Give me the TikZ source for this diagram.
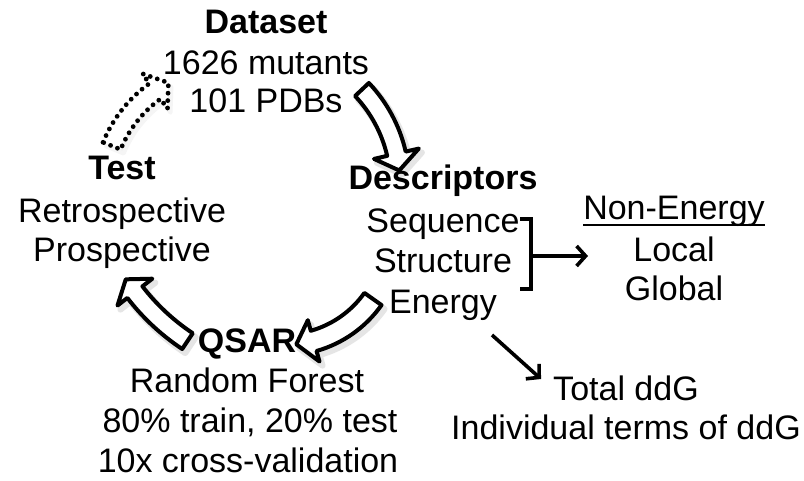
\documentclass[tikz,border=0pt]{standalone}
\usepackage{fontspec}
\setmainfont{Liberation Sans}
\usetikzlibrary{arrows.meta,calc}

% #1 style, #2 cx, #3 cy, #4 R, #5 start angle, #6 head-base angle, #7 tip angle, #8 half shaft width, #9 half head width
\newcommand{\cycarrow}[9]{%
  \pgfmathsetmacro\caRo{#4+#8}\pgfmathsetmacro\caRi{#4-#8}%
  \pgfmathsetmacro\caHo{#4+#9}\pgfmathsetmacro\caHi{#4-#9}%
  \path[#1] (#2,#3) ++(#5:\caRo pt) arc[start angle=#5, end angle=#6, radius=\caRo pt]
     -- ($(#2,#3)+(#6:\caHo pt)$) -- ($(#2,#3)+(#7:#4 pt)$) -- ($(#2,#3)+(#6:\caHi pt)$)
     -- ($(#2,#3)+(#6:\caRi pt)$) arc[start angle=#6, end angle=#5, radius=\caRi pt] -- cycle;
}

\begin{document}
\begin{tikzpicture}[x=1pt,y=1pt,
  txt/.style={inner sep=0pt, anchor=base, font=\fontsize{34}{40}\selectfont},
  hd/.style={inner sep=0pt, anchor=base, font=\fontsize{34}{40}\selectfont\bfseries},
  blockarrow/.style={draw=black, fill=white, line width=4pt, line join=round},
  dotarrow/.style={draw=black, fill=white, line width=4.8pt, dash pattern=on 0pt off 7.4pt, line cap=round, line join=round},
  shadowa/.style={fill=black!22, draw=black!10, line width=6pt, line join=round},
  shadowb/.style={fill=black!6, draw=black!4, line width=4pt, line join=round},
  thinarrow/.style={line width=3.6pt, -{Straight Barb[length=9pt,width=20pt]}}
]
\path[fill=white] (0,0) rectangle (804,-480);
\useasboundingbox (0,0) rectangle (804,-480);

% ---- block arrows (shadows first) ----
\cycarrow{shadowa}{264}{-189}{139}{43.4}{13}{6}{9.5}{23}
\cycarrow{shadowa}{287}{-240}{109}{-35.3}{-74.2}{-83.5}{10.5}{21.5}
\cycarrow{shadowa}{312.2}{-161.9}{220}{236.4}{217.6}{213.5}{9.5}{22}
\cycarrow{shadowb}{231.5}{-197.5}{126}{157.8}{125.7}{118.5}{9.5}{21.5}

\cycarrow{blockarrow}{261}{-185}{139}{43.4}{13}{6}{9.5}{23}
\cycarrow{blockarrow}{284}{-236}{109}{-35.3}{-74.2}{-83.5}{10.5}{21.5}
\cycarrow{blockarrow}{309.2}{-157.9}{220}{236.4}{217.6}{213.5}{9.5}{22}
\cycarrow{dotarrow}{228.5}{-193.5}{126}{157.8}{125.7}{118.5}{9.5}{21.5}

% ---- Dataset ----
\node[hd]  (dataset) at (266,-33)  {Dataset};
\node[txt] (mutants) at (266,-74)  {1626 mutants};
\node[txt] (pdbs)    at (266,-112) {101 PDBs};

% ---- Test ----
\node[hd]  (test)  at (122,-179) {Test};
\node[txt] (retro) at (122,-222) {Retrospective};
\node[txt] (prosp) at (122,-261) {Prospective};

% ---- Descriptors ----
\node[hd]  (desc)   at (443,-189) {Descriptors};
\node[txt] (seq)    at (443,-232) {Sequence};
\node[txt] (struc)  at (443,-272) {Structure};
\node[txt] (energy) at (443,-313) {Energy};

% ---- Non-Energy ----
\node[txt] (nonenergy) at (674,-219) {Non-Energy};
\draw[line width=2.4pt] ([yshift=-6pt]nonenergy.base west) -- ([yshift=-6pt]nonenergy.base east);
\node[txt] (local)  at (674,-261) {Local};
\node[txt] (global) at (674,-300) {Global};

% ---- QSAR ----
\node[hd]  (qsar)  at (247,-352) {QSAR};
\node[txt] (rf)    at (247,-392) {Random Forest};
\node[txt] (split) at (250,-432) {80\% train, 20\% test};
\node[txt] (cv)    at (248,-472) {10x cross-validation};

% ---- ddG ----
\node[txt] (total) at (626,-400) {Total ddG};
\node[txt] (indiv) at (626,-439) {Individual terms of ddG};

% ---- bracket and connectors ----
\coordinate (brtop) at (520,-219);
\coordinate (brbot) at (520,-289);
\coordinate (brmid) at (531,-256);
\coordinate (brend) at (588,-256);
\draw[line width=3.4pt, line join=miter] (brtop) -- ++(11,0) |- (brbot);
\draw[thinarrow] (brmid) -- (brend);

\coordinate (enout) at (492,-335);
\coordinate (totin) at (541,-379);
\draw[thinarrow] (enout) -- (totin);
\end{tikzpicture}
\end{document}
